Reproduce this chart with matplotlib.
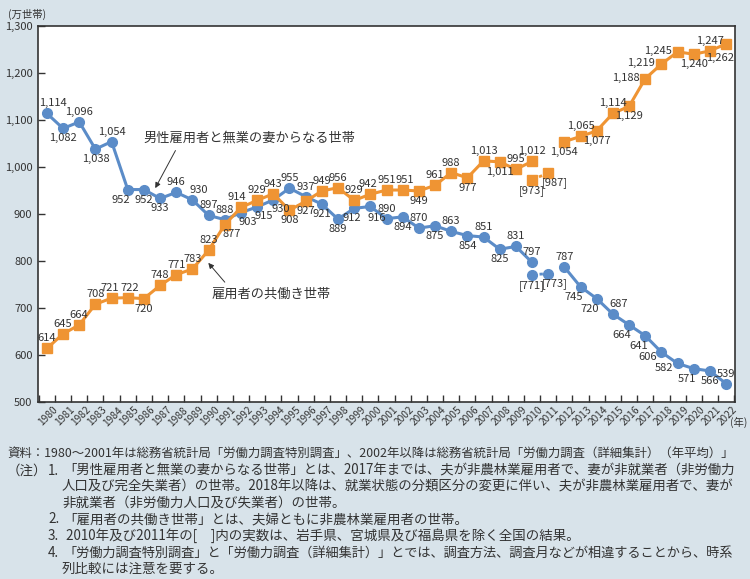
import numpy as np
import matplotlib
matplotlib.use("Agg")
import matplotlib.pyplot as plt
import matplotlib.transforms as mtransforms

plt.rcParams['font.family'] = ['Noto Sans CJK JP', 'DejaVu Sans']

# data (万世帯), 2011 has no national figure
years = list(range(1980, 2023))
single_income = [1114, 1082, 1096, 1038, 1054, 952, 952, 933, 946, 930,
                 897, 888, 903, 915, 930, 955, 937, 921, 889, 912,
                 916, 890, 894, 870, 875, 863, 854, 851, 825, 831,
                 797, None, 787, 745, 720, 687, 664, 641, 606, 582,
                 571, 566, 539]
dual_income = [614, 645, 664, 708, 721, 722, 720, 748, 771, 783,
               823, 877, 914, 929, 943, 908, 927, 949, 956, 929,
               942, 951, 951, 949, 961, 988, 977, 1013, 1011, 995,
               1012, None, 1054, 1065, 1077, 1114, 1129, 1188, 1219, 1245,
               1240, 1247, 1262]
# excluding Iwate, Miyagi, Fukushima
bracket_years = [2010, 2011]
single_bracket = [771, 773]
dual_bracket = [973, 987]

series_single = "男性雇用者と無業の妻からなる世帯"
series_dual = "雇用者の共働き世帯"

# label placement per point
pos_single = ['ar', 'b', 'a', 'b', 'a', 'bl', 'b', 'b', 'a', 'ar',
              'a', 'a', 'br', 'br', 'br', 'a', 'a', 'b', 'b', 'bsl',
              'brd', 'a', 'b', 'a', 'b', 'a', 'b', 'a', 'b', 'a',
              'a', None, 'a', 'bl', 'bl', 'ar', 'bl', 'bl', 'lb', 'lb',
              'bl', 'b', 'a']
pos_dual = ['a', 'a', 'a', 'a', 'asl', 'asr', 'b', 'a', 'a', 'a',
            'a', 'br', 'al', 'a', 'a', 'b', 'b', 'a', 'a', 'a',
            'asl', 'a', 'asr', 'b', 'a', 'a', 'b', 'a', 'b', 'a',
            'a', None, 'b', 'a', 'b', 'a', 'b', 'l', 'l', 'l',
            'b', 'a', 'bbl']
offsets = {
    'a': (0, 5, 'center', 'bottom'),
    'b': (0, -5, 'center', 'top'),
    'al': (-4, 5, 'center', 'bottom'),
    'asl': (-2, 5, 'center', 'bottom'),
    'asr': (2, 5, 'center', 'bottom'),
    'ar': (6, 5, 'center', 'bottom'),
    'bl': (-7, -5, 'center', 'top'),
    'bsl': (-2, -5, 'center', 'top'),
    'bbl': (-6, -9, 'center', 'top'),
    'br': (7, -4, 'center', 'top'),
    'brd': (6, -7, 'center', 'top'),
    'l': (-6, 1, 'right', 'center'),
    'lb': (-4, -5, 'right', 'center'),
}

blue = '#5b8cc8'
orange = '#ef9433'
bg = '#d8e3ea'
txt = '#333333'

fig = plt.figure(figsize=(7.5, 5.79), dpi=100, facecolor=bg)
ax = fig.add_axes([38 / 750, 1 - 402 / 579, 697 / 750, 376 / 579])
ax.set_facecolor('white')

x = np.arange(len(years))
ys = np.array([np.nan if v is None else v for v in single_income], dtype=float)
yd = np.array([np.nan if v is None else v for v in dual_income], dtype=float)

ax.plot(x, ys, color=blue, lw=2.2, marker='o', ms=7, zorder=3)
ax.plot(x, yd, color=orange, lw=2.2, marker='s', ms=7, zorder=3)

xb = [years.index(y) for y in bracket_years]
ax.plot(xb, single_bracket, color=blue, lw=2, ls=(0, (1.2, 1.5)), marker='o', ms=7, zorder=3)
ax.plot(xb, dual_bracket, color=orange, lw=2, ls=(0, (1.2, 1.5)), marker='s', ms=7, zorder=3)


def put_label(xi, v, code, text):
    dx, dy, ha, va = offsets[code]
    ax.annotate(text, (xi, v), xytext=(dx, dy), textcoords='offset pixels',
                ha=ha, va=va, fontsize=8, color=txt, zorder=4)


for i in range(len(years)):
    if single_income[i] is not None:
        put_label(i, single_income[i], pos_single[i], f"{single_income[i]:,}")
    if dual_income[i] is not None:
        put_label(i, dual_income[i], pos_dual[i], f"{dual_income[i]:,}")

put_label(xb[0], single_bracket[0], 'b', f"[{single_bracket[0]}]")
put_label(xb[1], single_bracket[1], 'br', f"[{single_bracket[1]}]")
put_label(xb[0], dual_bracket[0], 'b', f"[{dual_bracket[0]}]")
put_label(xb[1], dual_bracket[1], 'br', f"[{dual_bracket[1]}]")

# series name callouts
ax.annotate('', xy=(6.7, 955), xytext=(7.95, 1035),
            arrowprops=dict(arrowstyle='-|>', color='#333333', lw=0.7,
                            mutation_scale=8, shrinkA=0, shrinkB=0))
ax.text(5.95, 1062, series_single, fontsize=9.5, color=txt, ha='left', va='center')
ax.annotate('', xy=(9.98, 796), xytext=(11.0, 755),
            arrowprops=dict(arrowstyle='-|>', color='#333333', lw=0.7,
                            mutation_scale=8, shrinkA=0, shrinkB=0))
ax.text(10.2, 730, series_dual, fontsize=9.5, color=txt, ha='left', va='center')

ax.set_xlim(-0.55, 42.55)
ax.set_ylim(500, 1300)
ax.set_yticks(range(500, 1301, 100))
ax.set_yticklabels([f"{v:,}" for v in range(500, 1301, 100)], fontsize=8, color=txt)
ax.tick_params(axis='y', direction='in', length=5, width=1, color='#333333', pad=4)

ax.set_xticks(x)
ax.set_xticks(np.arange(-0.5, 42.6, 1), minor=True)
ax.tick_params(axis='x', which='major', length=0, pad=2)
ax.tick_params(axis='x', which='minor', direction='in', length=5, width=1, color='#333333')
ax.set_xticklabels([str(y) for y in years], fontsize=7.3, color=txt,
                   rotation=45, ha='right', rotation_mode='anchor')
shift = mtransforms.ScaledTranslation(6 / 100, 0, fig.dpi_scale_trans)
for lab in ax.get_xticklabels():
    lab.set_transform(lab.get_transform() + shift)

for sp in ax.spines.values():
    sp.set_color('#333333')
    sp.set_linewidth(1.2)

fig.text(8 / 750, 1 - 14 / 579, "(万世帯)", fontsize=7.5, color=txt, ha='left', va='center')
fig.text(730 / 750, 1 - 422 / 579, "(年)", fontsize=7.5, color=txt, ha='left', va='center')

# notes
notes = [
    (7, 453, "資料：1980～2001年は総務省統計局「労働力調査特別調査」、2002年以降は総務省統計局「労働力調査（詳細集計）（年平均）」", True),
    (7, 471, "（注）", False),
    (48, 471, "1.", False),
    (63, 471, "「男性雇用者と無業の妻からなる世帯」とは、2017年までは、夫が非農林業雇用者で、妻が非就業者（非労働力", True),
    (62, 487, "人口及び完全失業者）の世帯。2018年以降は、就業状態の分類区分の変更に伴い、夫が非農林業雇用者で、妻が", True),
    (62, 503, "非就業者（非労働力人口及び失業者）の世帯。", False),
    (48, 519, "2.", False),
    (63, 519, "「雇用者の共働き世帯」とは、夫婦ともに非農林業雇用者の世帯。", False),
    (48, 536, "3.", False),
    (66, 536, "2010年及び2011年の[　]内の実数は、岩手県、宮城県及び福島県を除く全国の結果。", False),
    (48, 553, "4.", False),
    (63, 553, "「労働力調査特別調査」と「労働力調査（詳細集計）」とでは、調査方法、調査月などが相違することから、時系", True),
    (62, 569, "列比較には注意を要する。", False),
]
base_fs = 9.7
handles = []
for nx, ny, s, fit in notes:
    t = fig.text(nx / 750, 1 - ny / 579, s, fontsize=base_fs, color=txt, ha='left', va='center')
    handles.append((t, nx, fit))

fig.canvas.draw()
r = fig.canvas.get_renderer()
for t, nx, fit in handles:
    if fit:
        w = t.get_window_extent(r).width
        target = 737 - nx
        if w > target:
            t.set_fontsize(base_fs * target / w)

fig.savefig('out.png', dpi=100, facecolor=bg)
